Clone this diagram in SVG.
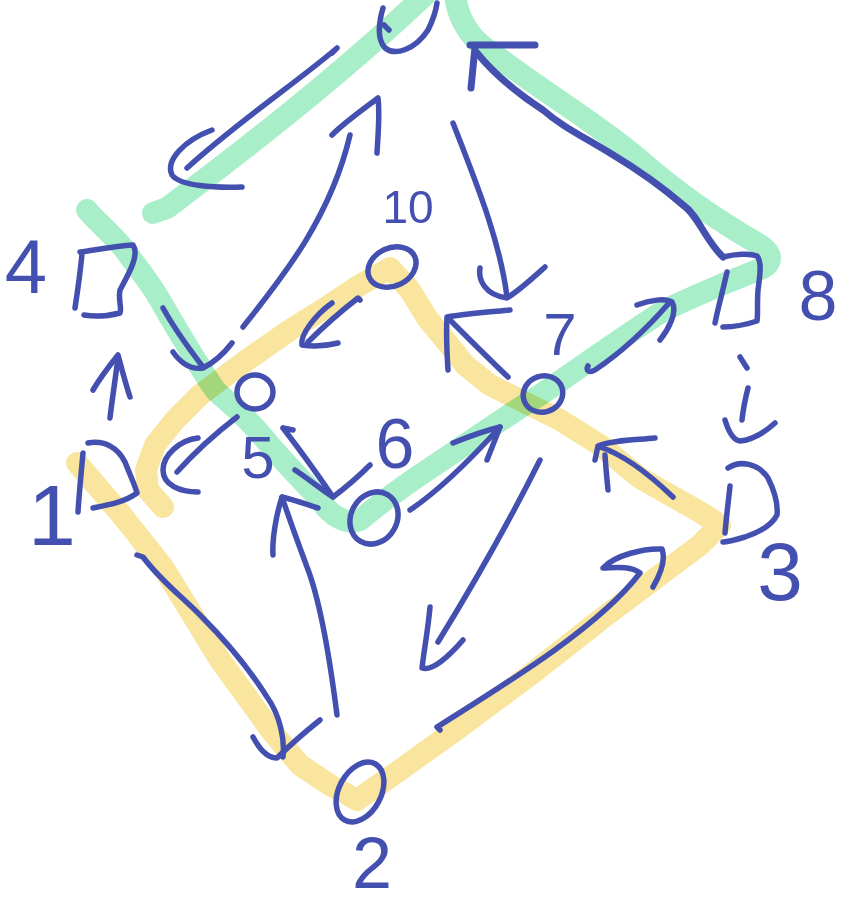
<svg xmlns="http://www.w3.org/2000/svg" width="853" height="908" viewBox="0 0 853 908">
<style>
.g{fill:none;stroke:#A8EFC9;stroke-width:22;stroke-linecap:round;stroke-linejoin:round}
.y{fill:none;stroke:#F9E59D;stroke-width:22;stroke-linecap:round;stroke-linejoin:round}
.b{fill:none;stroke:#4450B0;stroke-width:5.5;stroke-linecap:round;stroke-linejoin:round}
.bt{fill:none;stroke:#4450B0;stroke-width:7;stroke-linecap:round;stroke-linejoin:round}
.t{fill:#4450B0;font-family:"Liberation Sans",Arial,sans-serif;text-anchor:middle}
</style>
<rect width="853" height="908" fill="#ffffff"/>
<g id="highlights">
<g id="green">
<path class="g" d="M153,213 L167,208 C230,160 330,85 425,-5"/>
<path class="g" d="M455,-5 C458,20 470,40 495,55 C540,90 600,125 640,160 C680,195 720,222 760,245 C775,255 772,265 758,270 C720,285 690,298 665,310 C620,338 580,368 540,395 C500,420 455,452 420,475 C395,492 378,505 360,520 C345,525 330,515 320,500 C300,478 280,458 263,437 C240,410 225,400 215,390 C195,360 180,335 160,300 C145,275 135,265 125,250 C110,232 95,220 87,210"/>
</g>
<g id="yellow" style="mix-blend-mode:multiply">
<path class="y" d="M77,463 L120,513 L163,567 L220,660 L273,733 L300,765 L330,785 L357,800 L400,770 L460,727 L530,675 L600,620 L660,575 L700,545 L720,525 L700,512 L640,478 L600,445 L560,420 L520,400 L490,385 L465,365 L445,340 L427,318 L410,290 L390,268 L360,285 L330,305 L290,330 L240,365 L200,395 L175,420 L155,445 L146,470 L148,490 L163,507"/>
</g>
</g>
<g id="connectors">
<g id="c-9-4"><path class="b" d="M332,53 L337,48 C300,80 240,120 187,168"/><path class="b" d="M212,130 C185,140 165,160 172,175 C180,186 215,188 242,187"/></g>
<g id="c-5-9"><path class="b" d="M243,327 C280,280 330,220 350,135"/><path class="b" d="M332,135 C345,122 365,108 378,98 C380,115 378,135 377,153"/></g>
<g id="c-9-7"><path class="b" d="M453,123 C475,180 500,240 507,297"/><path class="b" d="M480,268 C478,280 485,295 507,298 C520,290 535,276 545,267"/></g>
<g id="c-8-9"><path class="bt" d="M723,257 C705,240 698,215 683,205 C660,185 630,165 610,153 C580,135 560,125 543,110 C520,95 495,75 477,53"/><path class="bt" d="M470,45 L535,45 M475,47 L471,88"/></g>
<g id="c-6-7"><path class="b" d="M410,510 C440,490 470,460 500,427"/><path class="b" d="M453,443 C470,436 488,430 500,427 L487,460"/></g>
<g id="c-7-8"><path class="b" d="M588,366 C585,371 590,373 595,370 C625,350 650,325 670,302"/><path class="b" d="M637,305 C650,300 665,298 672,302 C678,312 668,330 660,340"/></g>
<g id="c-7-10"><path class="b" d="M508,377 C490,360 470,340 450,320"/><path class="b" d="M510,310 C490,312 465,314 447,317 C446,335 447,355 448,370"/></g>
<g id="c-10-5"><path class="b" d="M360,300 L358,298 C340,312 320,330 308,342"/><path class="b" d="M332,303 C315,315 300,335 302,345 C315,347 330,345 338,343"/></g>
<g id="c-4-5"><path class="b" d="M163,308 C175,330 190,350 203,367"/><path class="b" d="M173,352 C180,362 190,370 203,368 C215,362 225,352 232,343"/></g>
<g id="c-1-4"><path class="b" d="M110,418 C112,400 116,375 118,357"/><path class="b" d="M93,390 C100,378 110,365 118,355 C122,370 126,385 130,397"/></g>
<g id="c-5-1"><path class="b" d="M237,417 C220,430 195,452 177,472"/><path class="b" d="M198,438 C180,440 163,455 163,470 C163,485 180,492 198,492"/></g>
<g id="c-5-6"><path class="b" d="M283,428 L293,430 M283,428 C300,450 318,475 333,497"/><path class="b" d="M295,470 C310,480 322,490 333,497 C345,488 360,475 370,465"/></g>
<g id="c-2-6"><path class="b" d="M337,715 C330,660 320,600 307,567 C297,540 288,515 282,497"/><path class="b" d="M273,555 C272,540 276,515 282,497 C295,500 308,505 318,508"/></g>
<g id="c-1-2"><path class="b" d="M137,555 L143,557 C160,580 180,595 200,615 C225,640 250,670 267,697 C280,715 285,740 283,757"/><path class="b" d="M253,737 C260,750 268,758 277,758 C290,745 305,732 320,720"/></g>
<g id="c-2-3"><path class="b" d="M440,730 L437,727 C520,675 600,625 640,573 C630,565 612,568 603,568 C615,555 645,548 662,549 C666,560 660,575 653,587"/></g>
<g id="c-7-2"><path class="b" d="M540,460 C510,520 470,590 438,642"/><path class="b" d="M430,607 C428,630 424,650 422,668 C432,672 450,655 463,640"/></g>
<g id="c-3-7"><path class="b" d="M673,497 C650,475 625,455 600,447"/><path class="b" d="M655,438 C635,440 612,440 598,446 L595,460 M605,455 C606,470 607,480 608,490"/></g>
<g id="c-8-3"><path class="b" d="M740,357 L747,368 M748,388 C745,400 743,410 742,420"/><path class="b" d="M725,420 C728,430 733,440 740,441 C752,440 765,432 775,423"/></g>
</g>
<g id="node-9"><path class="b" d="M383,8 C378,25 378,40 385,48 C395,56 415,50 428,30 C433,20 436,10 437,3 M384,25 L389,30"/></g>
<g id="node-4"><path class="b" d="M80,252 C95,250 115,246 133,245 C140,255 128,275 120,290 C118,300 122,308 120,313 C108,316 95,317 84,315 M82,254 C80,275 77,295 75,308"/><text class="t" x="26" y="293" font-size="76">4</text></g>
<g id="node-1"><path class="b" d="M88,443 C105,440 118,448 125,462 C130,475 135,485 137,493 C125,502 108,505 93,508 M83,453 C81,475 79,495 78,512"/><text class="t" x="52" y="545" font-size="86">1</text></g>
<g id="node-5"><ellipse class="b" cx="255" cy="392" rx="18" ry="17"/><text class="t" x="258" y="478" font-size="60">5</text></g>
<g id="node-10"><ellipse class="b" cx="392" cy="267" rx="25" ry="19" transform="rotate(-25 392 267)"/><text class="t" x="408" y="223" font-size="46">10</text></g>
<g id="node-7"><ellipse class="b" cx="543" cy="394" rx="20" ry="18" transform="rotate(-20 543 394)"/><text class="t" x="560" y="355" font-size="60">7</text></g>
<g id="node-6"><ellipse class="b" cx="374" cy="518" rx="23" ry="27" transform="rotate(30 374 518)"/><text class="t" x="395" y="468" font-size="70">6</text></g>
<g id="node-8"><path class="b" d="M723,257 C735,254 750,253 757,256 C762,262 760,275 758,290 C757,305 758,315 757,321 C745,325 733,327 723,327 M727,272 C723,290 718,308 715,323"/><text class="t" x="818" y="320" font-size="70">8</text></g>
<g id="node-3"><path class="b" d="M728,468 C740,460 758,463 768,478 C775,492 778,505 777,515 C772,525 760,532 745,537 C735,540 728,542 723,542 M730,486 C728,505 726,520 725,533"/><text class="t" x="780" y="600" font-size="82">3</text></g>
<g id="node-2"><ellipse class="b" cx="360" cy="792" rx="21" ry="32" transform="rotate(28 360 792)"/><text class="t" x="372" y="888" font-size="72">2</text></g>
</svg>
